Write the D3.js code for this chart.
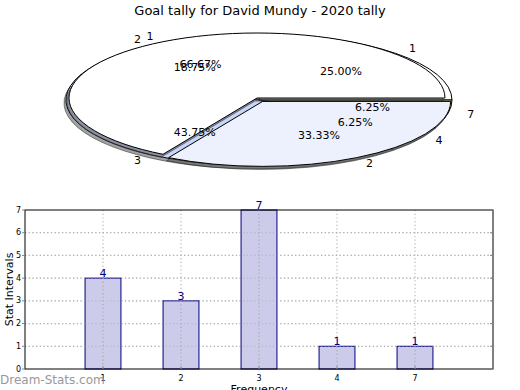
<!DOCTYPE html>
<html>
<head>
<meta charset="utf-8">
<script src="https://cdn.jsdelivr.net/npm/d3@7"></script>
<style>
  body { margin: 0; background: #fff; }
  svg { font-family: "DejaVu Sans", sans-serif; }
</style>
</head>
<body>
<svg id="chart" width="520" height="390"></svg>
<script>
// data
var pieLabelsA = ["1", "2", "3", "4", "7"];
var pieValuesA = [4, 3, 7, 1, 1];
var pieLabelsB = ["1", "2"];
var pieValuesB = [2, 1];
var freqLabels = ["1", "2", "3", "4", "7"];
var tallyCounts = [4, 3, 7, 1, 1];
var yTicks = [0, 1, 2, 3, 4, 5, 6, 7];

var svg = d3.select("#chart");

// title
svg.append("text")
  .attr("x", 260).attr("y", 15)
  .attr("text-anchor", "middle")
  .style("font-size", "13px")
  .text("Goal tally for David Mundy - 2020 tally");

// ---------- pie (squashed, two pies drawn over each other) ----------

// counter clockwise from 3 o'clock, like the original
var pieGen = d3.pie().sort(null)
  .startAngle(Math.PI / 2)
  .endAngle(Math.PI / 2 - 2 * Math.PI);

var pieLayer = svg.append("g");
var textLayer = svg.append("g");

function drawPie(values, labels, colors, explode, cx, cy, rx, ry) {
  var total = d3.sum(values);
  var arcs = pieGen(values);
  var arcGen = d3.arc().innerRadius(0).outerRadius(rx);
  var shadows = pieLayer.append("g");
  var wedges = pieLayer.append("g");
  arcs.forEach(function (d, i) {
    var m = (d.startAngle + d.endAngle) / 2;
    var ox = explode[i] * rx * Math.sin(m);
    var oy = -explode[i] * ry * Math.cos(m);
    shadows.append("path")
      .attr("d", arcGen(d))
      .attr("transform", "translate(" + (cx + ox - 2) + "," + (cy + oy + 3) + ") scale(1," + (ry / rx) + ")")
      .attr("fill", "#555")
      .attr("fill-opacity", 0.55)
      .attr("stroke", "#222")
      .attr("stroke-opacity", 0.5)
      .attr("vector-effect", "non-scaling-stroke");
    wedges.append("path")
      .attr("d", arcGen(d))
      .attr("transform", "translate(" + (cx + ox) + "," + (cy + oy) + ") scale(1," + (ry / rx) + ")")
      .attr("fill", colors[i])
      .attr("stroke", "#000")
      .attr("stroke-width", 1)
      .attr("vector-effect", "non-scaling-stroke");

    // percentages
    textLayer.append("text")
      .attr("x", cx + ox + 0.6 * rx * Math.sin(m))
      .attr("y", cy + oy - 0.6 * ry * Math.cos(m))
      .attr("text-anchor", "middle")
      .attr("dominant-baseline", "central")
      .style("font-size", "11px")
      .text(d3.format(".2f")(values[i] / total * 100) + "%");
    // outer labels
    textLayer.append("text")
      .attr("x", cx + ox + 1.1 * rx * Math.sin(m))
      .attr("y", cy + oy - 1.1 * ry * Math.cos(m))
      .attr("text-anchor", Math.sin(m) > 0 ? "start" : "end")
      .attr("dominant-baseline", "central")
      .style("font-size", "11px")
      .text(labels[i]);
  });
}

drawPie(pieValuesA, pieLabelsA, ["#ffffff", "#ffffff", "#c6d6f8", "#e6edfc", "#c8e07a"],
  [0, 0, 0, 0, 0], 259, 100, 193, 66);
drawPie(pieValuesB, pieLabelsB, ["#ffffff", "#ecf1fd"],
  [0, 0.06], 257, 98, 188, 65);

// ---------- bar chart ----------
var pLeft = 25, pRight = 493, pTop = 210, pBottom = 369;

var x = d3.scaleLinear().domain([0, freqLabels.length + 1]).range([pLeft, pRight]);
var y = d3.scaleLinear().domain([0, 7]).range([pBottom, pTop]);
var barW = 0.46;

var plot = svg.append("g");

// grid
plot.selectAll(".hgrid").data(yTicks.slice(1, -1)).enter().append("line")
  .attr("x1", pLeft).attr("x2", pRight)
  .attr("y1", function (d) { return y(d); }).attr("y2", function (d) { return y(d); })
  .attr("stroke", "#b8b8b8").attr("stroke-width", 1.2).attr("stroke-dasharray", "1.2,2.5");
plot.selectAll(".vgrid").data(freqLabels).enter().append("line")
  .attr("x1", function (d, i) { return x(i + 1); }).attr("x2", function (d, i) { return x(i + 1); })
  .attr("y1", pTop).attr("y2", pBottom)
  .attr("stroke", "#b8b8b8").attr("stroke-width", 1.2).attr("stroke-dasharray", "1.2,2.5");

// bars
plot.selectAll(".bar").data(tallyCounts).enter().append("rect")
  .attr("x", function (d, i) { return x(i + 1 - barW / 2); })
  .attr("width", x(barW) - x(0))
  .attr("y", function (d) { return y(d); })
  .attr("height", function (d) { return y(0) - y(d); })
  .attr("fill", "#ccccea")
  .attr("stroke", "#000080")
  .attr("stroke-width", 1);

// grid shows through the bars in the original
plot.selectAll(".vgrid2").data(tallyCounts).enter().append("line")
  .attr("x1", function (d, i) { return x(i + 1); }).attr("x2", function (d, i) { return x(i + 1); })
  .attr("y1", function (d) { return y(d); }).attr("y2", pBottom)
  .attr("stroke", "#aaa").attr("stroke-width", 1.2).attr("stroke-dasharray", "1.2,2.5");
plot.selectAll(".hgrid2").data(yTicks.slice(1, -1)).enter().append("line")
  .attr("x1", pLeft).attr("x2", pRight)
  .attr("y1", function (d) { return y(d); }).attr("y2", function (d) { return y(d); })
  .attr("stroke", "#aaa").attr("stroke-width", 1.2).attr("stroke-dasharray", "1.2,2.5")
  .attr("stroke-opacity", 0.6);

// value labels
plot.selectAll(".val").data(tallyCounts).enter().append("text")
  .attr("x", function (d, i) { return x(i + 1); })
  .attr("y", function (d) { return y(d) - 1; })
  .attr("text-anchor", "middle")
  .attr("fill", "#000080")
  .style("font-size", "11px")
  .text(function (d) { return d; });

// frame
plot.append("rect")
  .attr("x", pLeft).attr("y", pTop)
  .attr("width", pRight - pLeft).attr("height", pBottom - pTop)
  .attr("fill", "none").attr("stroke", "#000").attr("stroke-width", 1);

// y ticks
var yAxis = plot.append("g");
yTicks.forEach(function (t) {
  yAxis.append("line").attr("x1", pLeft - 3).attr("x2", pLeft).attr("y1", y(t)).attr("y2", y(t)).attr("stroke", "#888");
  yAxis.append("line").attr("x1", pRight - 3).attr("x2", pRight).attr("y1", y(t)).attr("y2", y(t)).attr("stroke", "#888");
  yAxis.append("text")
    .attr("x", pLeft - 4).attr("y", y(t))
    .attr("text-anchor", "end").attr("dominant-baseline", "central")
    .style("font-size", "8px")
    .text(t);
});

// x ticks
freqLabels.forEach(function (f, i) {
  plot.append("line").attr("x1", x(i + 1)).attr("x2", x(i + 1)).attr("y1", pBottom - 3).attr("y2", pBottom).attr("stroke", "#888");
  plot.append("text")
    .attr("x", x(i + 1)).attr("y", pBottom + 12)
    .attr("text-anchor", "middle")
    .style("font-size", "8px")
    .text(f);
});

// axis titles
svg.append("text")
  .attr("transform", "translate(13," + ((pTop + pBottom) / 2) + ") rotate(-90)")
  .attr("text-anchor", "middle")
  .style("font-size", "11px")
  .text("Stat Intervals");
svg.append("text")
  .attr("x", x(3)).attr("y", 393)
  .attr("text-anchor", "middle")
  .style("font-size", "11px")
  .text("Frequency");

// watermark
svg.append("text")
  .attr("x", 0).attr("y", 384)
  .style("font-size", "12px")
  .attr("fill", "#999")
  .text("Dream-Stats.com");
</script>
</body>
</html>
